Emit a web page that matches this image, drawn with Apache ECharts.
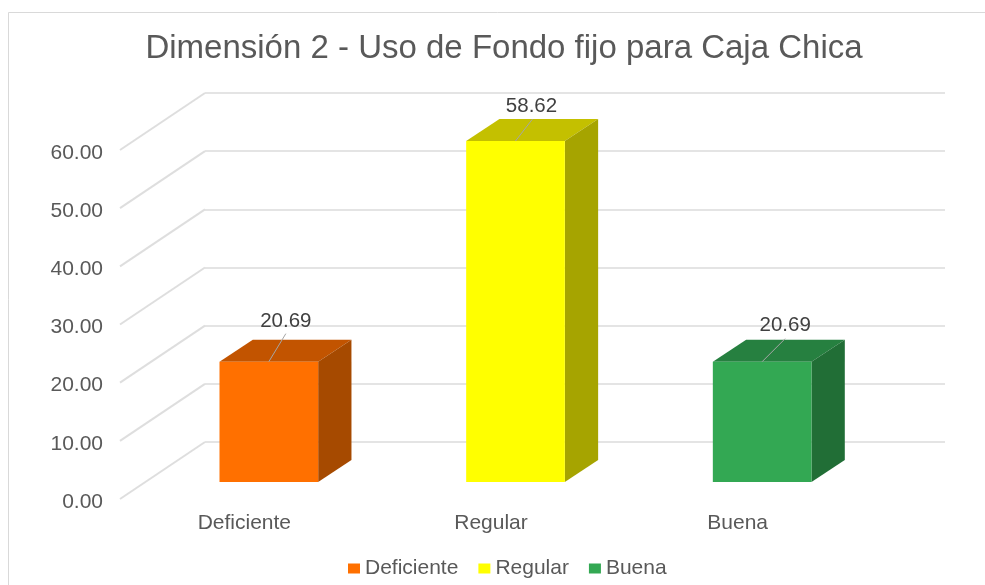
<!DOCTYPE html>
<html>
<head>
<meta charset="utf-8">
<title>Dimensión 2</title>
<style>
  html,body{margin:0;padding:0;background:#fff;}
  #chart{width:985px;height:585px;}
</style>
<script src="https://cdn.jsdelivr.net/npm/echarts@6/dist/echarts.min.js"></script>
</head>
<body>
<div id="chart"></div>
<script>
var titleText = 'Dimensión 2 - Uso de Fondo fijo para Caja Chica';
var categories = ['Deficiente', 'Regular', 'Buena'];
var values = [20.69, 58.62, 20.69];
var yTicks = [0, 10, 20, 30, 40, 50, 60];

var faceColors = ['#FF7000', '#FFFF00', '#33A853'];
var topColors = ['#C25400', '#C4C000', '#268040'];
var sideColors = ['#A64A00', '#A6A400', '#216E36'];
// etiqueta y linea guia, relativas al centro superior de la barra
var labelOffsets = [[17, -40], [16, -35], [23, -36]];
var leaderEnds = [[17, -28], [17, -22], [23, -23]];

var fontName = '"Liberation Sans", Arial, sans-serif';
var depth = [85, -57]; // de la pared frontal a la del fondo
var lineStart = [-1, -3]; // las oblicuas salen un poco antes que los rotulos
var barShift = [-59.5, 40]; // de la pared del fondo a la cara de la barra
var barDepth = [33.3, -22];

var chart = echarts.init(document.getElementById('chart'));

// lineas oblicuas del piso hacia la pared del fondo
function renderDepthLine(params, api) {
  var y = api.coord([0, api.value(0)])[1] + lineStart[1];
  var x = params.coordSys.x + lineStart[0];
  return {
    type: 'line',
    shape: {x1: x, y1: y, x2: x + depth[0], y2: y + depth[1]},
    style: {stroke: '#DEDEDE', lineWidth: 2}
  };
}

function renderBar(params, api) {
  var i = api.value(0);
  var p = api.coord([i, api.value(1)]);
  var b = api.coord([i, 0]);
  var w = api.size([1, 0])[0] * 0.4;
  var x0 = p[0] + barShift[0] - w / 2;
  var x1 = x0 + w;
  var yt = p[1] + barShift[1];
  var yb = b[1] + barShift[1];
  var dx = barDepth[0], dy = barDepth[1];
  var cx = (x0 + x1) / 2;
  return {
    type: 'group',
    children: [
      {type: 'polygon', shape: {points: [[x0, yt], [x1, yt], [x1 + dx, yt + dy], [x0 + dx, yt + dy]]}, style: {fill: topColors[i]}},
      {type: 'polygon', shape: {points: [[x1, yt], [x1 + dx, yt + dy], [x1 + dx, yb + dy], [x1, yb]]}, style: {fill: sideColors[i]}},
      {type: 'rect', shape: {x: x0, y: yt, width: w, height: yb - yt}, style: {fill: faceColors[i]}},
      {type: 'line', shape: {x1: cx, y1: yt, x2: cx + leaderEnds[i][0], y2: yt + leaderEnds[i][1]}, style: {stroke: '#A6A6A6', lineWidth: 1}},
      {type: 'text', x: cx + labelOffsets[i][0], y: yt + labelOffsets[i][1], style: {
        text: api.value(1).toFixed(2), fill: '#404040', font: '20.5px ' + fontName,
        textAlign: 'center', textVerticalAlign: 'middle'
      }}
    ]
  };
}

var series = [{
  type: 'custom',
  xAxisIndex: 1,
  yAxisIndex: 1,
  silent: true,
  renderItem: renderDepthLine,
  encode: {y: 0},
  data: yTicks.map(function (t) { return [t]; }),
  z: 1
}];
categories.forEach(function (name, i) {
  series.push({
    name: name,
    type: 'custom',
    xAxisIndex: 0,
    yAxisIndex: 0,
    renderItem: renderBar,
    encode: {x: 0, y: 1},
    itemStyle: {color: faceColors[i]},
    data: [[i, values[i]]],
    z: 3
  });
});

var option = {
  animation: false,
  backgroundColor: '#fff',
  title: {
    text: titleText,
    left: 499,
    top: 27,
    textAlign: 'center',
    textStyle: {color: '#595959', fontSize: 33, fontWeight: 'normal', fontFamily: fontName}
  },
  legend: {
    left: 348,
    top: 558,
    padding: 0,
    itemWidth: 12,
    itemHeight: 10,
    itemGap: 20,
    icon: 'rect',
    data: categories,
    textStyle: {color: '#595959', fontSize: 21, fontFamily: fontName}
  },
  // grid 0 = pared del fondo, grid 1 = plano frontal con los rotulos
  grid: [
    {left: 205, right: 40, top: 93, bottom: 143},
    {left: 121, top: 153, width: 740, bottom: 83}
  ],
  xAxis: [
    {gridIndex: 0, type: 'category', data: categories, axisLine: {show: false}, axisTick: {show: false}, axisLabel: {show: false}},
    {gridIndex: 1, type: 'category', data: categories, axisLine: {show: false}, axisTick: {show: false},
      axisLabel: {color: '#595959', fontSize: 21, fontFamily: fontName, margin: 11}}
  ],
  yAxis: [
    {gridIndex: 0, type: 'value', min: 0, max: 60, interval: 10, axisLine: {show: false}, axisTick: {show: false}, axisLabel: {show: false},
      splitLine: {lineStyle: {color: '#E4E4E4', width: 2}}},
    {gridIndex: 1, type: 'value', min: 0, max: 60, interval: 10, axisLine: {show: false}, axisTick: {show: false}, splitLine: {show: false},
      axisLabel: {color: '#595959', fontSize: 21, fontFamily: fontName, margin: 18, formatter: function (v) { return v.toFixed(2); }}}
  ],
  graphic: [{
    type: 'polyline',
    silent: true,
    z: 0,
    shape: {points: [[8.5, 590], [8.5, 12.5], [990, 12.5]]},
    style: {stroke: '#D9D9D9', lineWidth: 1, fill: null}
  }],
  series: series
};
chart.setOption(option);
</script>
</body>
</html>
